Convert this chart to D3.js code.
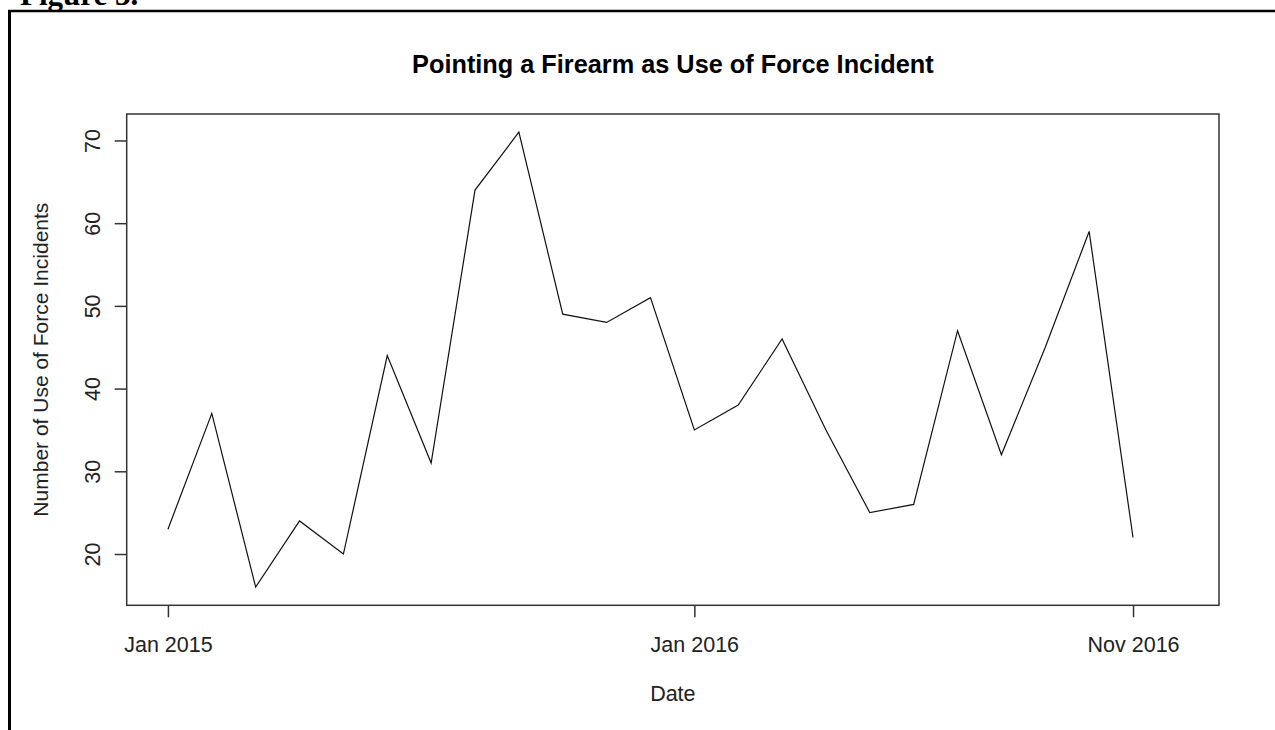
<!DOCTYPE html>
<html><head><meta charset="utf-8">
<script src="https://cdn.jsdelivr.net/npm/d3@7"></script>
<style>body{margin:0;background:#fff;} svg{display:block;}</style>
</head><body>
<svg id="c" width="1275" height="730"></svg>
<script>
const months = ["Jan 2015","Feb 2015","Mar 2015","Apr 2015","May 2015","Jun 2015","Jul 2015","Aug 2015","Sep 2015","Oct 2015","Nov 2015","Dec 2015",
  "Jan 2016","Feb 2016","Mar 2016","Apr 2016","May 2016","Jun 2016","Jul 2016","Aug 2016","Sep 2016","Oct 2016","Nov 2016"];
const counts = [23,37,16,24,20,44,31,64,71,49,48,51,35,38,46,35,25,26,47,32,45,59,22];
const xTickLabels = ["Jan 2015","Jan 2016","Nov 2016"];
const yTicks = [20,30,40,50,60,70];
const title = "Pointing a Firearm as Use of Force Incident";
const xTitle = "Date";
const yTitle = "Number of Use of Force Incidents";
const figLabel = "Figure 3.";

const FONT = "Liberation Sans, Arial, sans-serif";
const svg = d3.select("#c");
const L = 126.7, R = 1219, T = 114, B = 605.3;
const x = d3.scaleLinear().domain([-0.94, 23.96]).range([L, R]);
const ymin = d3.min(counts), ymax = d3.max(counts), pad = (ymax-ymin)*0.04;
const y = d3.scaleLinear().domain([ymin-pad, ymax+pad]).range([B, T]);

// outer figure frame
svg.append("line").attr("x1",9.5).attr("x2",9.5).attr("y1",10).attr("y2",730).attr("stroke","#000").attr("stroke-width",3);
svg.append("line").attr("x1",8).attr("x2",1275).attr("y1",11).attr("y2",11).attr("stroke","#000").attr("stroke-width",2.5);
svg.append("text").attr("x",20).attr("y",5).attr("font-family","Liberation Serif, Times New Roman, serif")
  .attr("font-weight","bold").attr("font-size",31).attr("fill","#000").text(figLabel);

// plot box
svg.append("rect").attr("x",L).attr("y",T).attr("width",R-L).attr("height",B-T)
  .attr("fill","none").attr("stroke","#333").attr("stroke-width",1.5);

// line
const line = d3.line().x((d,i)=>x(i)).y(d=>y(d));
svg.append("path").datum(counts).attr("d",line).attr("fill","none").attr("stroke","#111").attr("stroke-width",1.2);

// y axis
const yAxis = svg.append("g").attr("transform",`translate(${L},0)`)
  .call(d3.axisLeft(y).tickValues(yTicks).tickSize(12).tickSizeOuter(0).tickPadding(0));
yAxis.select(".domain").remove();
yAxis.selectAll(".tick line").attr("stroke","#333").attr("stroke-width",1.5);
yAxis.selectAll(".tick text").attr("font-family",FONT).attr("font-size",21.5)
  .attr("fill","#222").attr("text-anchor","middle").attr("x",0).attr("dy",0)
  .attr("transform","translate(-33,0) rotate(-90)").attr("y",6.5);

// x axis
const xTickIdx = xTickLabels.map(l=>months.indexOf(l));
const xAxis = svg.append("g").attr("transform",`translate(0,${B})`)
  .call(d3.axisBottom(x).tickValues(xTickIdx).tickFormat(i=>months[i]).tickSize(12).tickSizeOuter(0).tickPadding(19));
xAxis.select(".domain").remove();
xAxis.selectAll(".tick line").attr("stroke","#333").attr("stroke-width",1.5);
xAxis.selectAll(".tick text").attr("font-family",FONT).attr("font-size",21.5).attr("fill","#222");

// titles
svg.append("text").attr("x",(L+R)/2).attr("y",73).attr("text-anchor","middle")
  .attr("font-family",FONT).attr("font-weight","bold").attr("font-size",25.3).attr("fill","#000").text(title);
svg.append("text").attr("x",(L+R)/2).attr("y",701).attr("text-anchor","middle")
  .attr("font-family",FONT).attr("font-size",21.5).attr("fill","#222").text(xTitle);
svg.append("text").attr("transform",`translate(48,${(T+B)/2}) rotate(-90)`).attr("text-anchor","middle")
  .attr("font-family",FONT).attr("font-size",21).attr("fill","#222").text(yTitle);
</script>
</body></html>
